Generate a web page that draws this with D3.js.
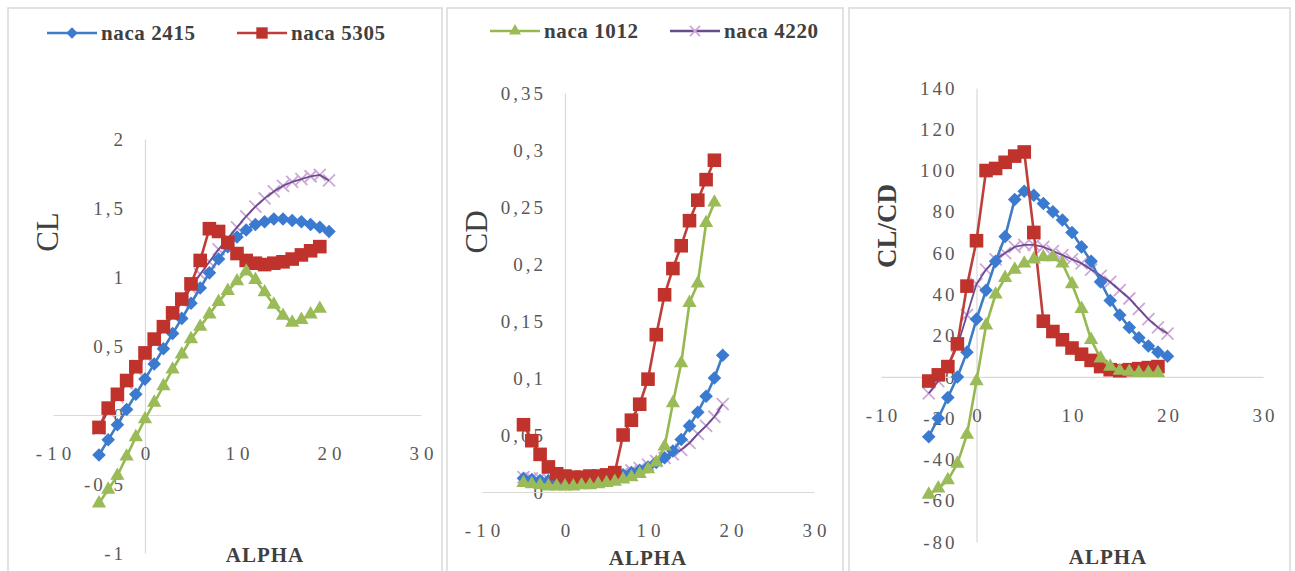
<!DOCTYPE html>
<html>
<head>
<meta charset="utf-8">
<script src="https://cdn.jsdelivr.net/npm/d3@7"></script>
<style>
  body { margin: 0; background: #fff; }
  svg text { font-family: "Liberation Serif", "Times New Roman", serif; }
</style>
</head>
<body>
<svg id="chart" width="1295" height="571"></svg>
<script>
// angle of attack, shared by all series (each series uses as many as it has values)
const alpha = [-5, -4, -3, -2, -1, 0, 1, 2, 3, 4, 5, 6, 7, 8, 9, 10, 11, 12, 13, 14, 15, 16, 17, 18, 19, 20];

const seriesNames = ['naca 2415', 'naca 5305', 'naca 1012', 'naca 4220'];
const seriesColors = ['#3f7cc4', '#be3f3a', '#96b94f', '#6a4c90'];
const markerColors = ['#3a7ad0', '#c0332d', '#9bbb59', '#cfa6d8'];
const seriesMarkers = ['diamond', 'square', 'triangle', 'cross'];
// Excel paints 4220 beneath the others here
const drawOrder = [3, 0, 1, 2];

// lift coefficient
const clNaca2415 = [-0.29, -0.18, -0.07, 0.04, 0.15, 0.26, 0.37, 0.48, 0.59, 0.7, 0.81, 0.92, 1.03, 1.13, 1.22, 1.29, 1.34, 1.38, 1.4, 1.42, 1.42, 1.41, 1.4, 1.38, 1.36, 1.33];
const clNaca5305 = [-0.09, 0.05, 0.15, 0.25, 0.35, 0.45, 0.55, 0.64, 0.74, 0.84, 0.95, 1.12, 1.35, 1.33, 1.25, 1.17, 1.12, 1.1, 1.09, 1.1, 1.11, 1.13, 1.16, 1.19, 1.22];
const clNaca1012 = [-0.64, -0.54, -0.44, -0.3, -0.16, -0.03, 0.09, 0.21, 0.33, 0.44, 0.55, 0.64, 0.73, 0.82, 0.9, 0.97, 1.04, 0.98, 0.89, 0.8, 0.72, 0.67, 0.69, 0.73, 0.77];
const clNaca4220 = [-0.1, 0.03, 0.13, 0.23, 0.33, 0.43, 0.53, 0.62, 0.72, 0.82, 0.92, 1.02, 1.11, 1.2, 1.28, 1.36, 1.44, 1.51, 1.57, 1.62, 1.66, 1.69, 1.71, 1.73, 1.74, 1.7];

// drag coefficient
const cdNaca2415 = [0.012, 0.011, 0.01, 0.01, 0.009, 0.009, 0.009, 0.01, 0.01, 0.011, 0.012, 0.013, 0.015, 0.017, 0.019, 0.022, 0.026, 0.03, 0.036, 0.046, 0.058, 0.07, 0.084, 0.1, 0.12];
const cdNaca5305 = [0.059, 0.045, 0.033, 0.022, 0.016, 0.014, 0.013, 0.013, 0.014, 0.014, 0.015, 0.017, 0.05, 0.063, 0.077, 0.099, 0.138, 0.173, 0.196, 0.216, 0.238, 0.256, 0.274, 0.291];
const cdNaca1012 = [0.008, 0.007, 0.006, 0.005, 0.005, 0.005, 0.005, 0.006, 0.006, 0.007, 0.008, 0.009, 0.011, 0.013, 0.016, 0.02, 0.026, 0.04, 0.078, 0.113, 0.166, 0.183, 0.236, 0.254];
const cdNaca4220 = [0.013, 0.012, 0.012, 0.011, 0.011, 0.011, 0.012, 0.012, 0.013, 0.014, 0.015, 0.016, 0.017, 0.019, 0.021, 0.024, 0.027, 0.03, 0.033, 0.037, 0.043, 0.051, 0.058, 0.066, 0.077];

// lift to drag ratio
const ratioNaca2415 = [-29, -20, -10, 0, 12, 28, 42, 56, 68, 86, 90, 88, 84, 80, 76, 70, 63, 56, 46, 37, 30, 24, 19, 15, 12, 10];
const ratioNaca5305 = [-2, 1, 5, 16, 44, 66, 100, 101, 104, 107, 109, 70, 27, 22, 18, 14, 11, 8, 5, 3.5, 3, 3.5, 4, 4.5, 5];
const ratioNaca1012 = [-57, -54, -50, -42, -28, -2, 25, 40, 48, 52, 55, 57, 58, 58, 55, 45, 33, 18, 9, 5, 3, 2.5, 2, 2, 2];
const ratioNaca4220 = [-8, -2, 5, 15, 30, 45, 52, 57, 60, 63, 64, 64, 63, 61, 59, 57, 55, 52, 49, 46, 42, 38, 33, 28, 24, 21];

const alphaTicks = [-10, 0, 10, 20, 30];
const clTicks = [-1, -0.5, 0, 0.5, 1, 1.5, 2];
const cdTicks = [0, 0.05, 0.1, 0.15, 0.2, 0.25, 0.3, 0.35];
const ratioTicks = [-80, -60, -40, -20, 0, 20, 40, 60, 80, 100, 120, 140];

const panels = [
    {
        box: [8, 8, 434, 580],
        xRange: [53, 421], yDomain: [-1, 2], yRange: [553, 139], yTicks: clTicks,
        values: [clNaca2415, clNaca5305, clNaca1012, clNaca4220],
        yTitle: 'CL', yTitleBold: false, yTitlePos: [47, 232], yTitleSize: 31,
        xTitlePos: [265, 562], xSpacing: 5,
        legend: { items: [0, 1], y: 33, starts: [47, 237] }
    },
    {
        box: [447, 8, 396, 580],
        xRange: [482, 814], yDomain: [0, 0.35], yRange: [492, 93], yTicks: cdTicks,
        values: [cdNaca2415, cdNaca5305, cdNaca1012, cdNaca4220],
        yTitle: 'CD', yTitleBold: false, yTitlePos: [476, 232], yTitleSize: 31,
        xTitlePos: [648, 565], xSpacing: 5,
        legend: { items: [2, 3], y: 31, starts: [490, 670] }
    },
    {
        box: [849, 8, 441, 580],
        xRange: [881, 1263], yDomain: [-80, 140], yRange: [542, 88], yTicks: ratioTicks,
        values: [ratioNaca2415, ratioNaca5305, ratioNaca1012, ratioNaca4220],
        yTitle: 'CL/CD', yTitleBold: true, yTitlePos: [887, 226], yTitleSize: 27,
        xTitlePos: [1108, 564], xSpacing: 3,
        legend: null
    }
];

const svg = d3.select('#chart');
const fmt = d => String(d).replace('.', ',');

function drawMarker(sel, type, color, scale = 1) {
    if (type === 'diamond') {
        sel.append('path')
            .attr('d', d3.symbol(d3.symbolSquare, 92 * scale)())
            .attr('transform', 'rotate(45)')
            .attr('fill', color);
    } else if (type === 'square') {
        sel.append('path')
            .attr('d', d3.symbol(d3.symbolSquare, 185 * scale)())
            .attr('fill', color);
    } else if (type === 'triangle') {
        sel.append('path')
            .attr('d', d3.symbol(d3.symbolTriangle, 88 * scale)())
            .attr('fill', color);
    } else {
        const r = 6 * Math.sqrt(scale);
        sel.append('path')
            .attr('d', `M${-r},${-r}L${r},${r}M${-r},${r}L${r},${-r}`)
            .attr('fill', 'none')
            .attr('stroke', color)
            .attr('stroke-width', 1.8);
    }
}

panels.forEach(p => {
    const x = d3.scaleLinear().domain([-10, 30]).range(p.xRange);
    const y = d3.scaleLinear().domain(p.yDomain).range(p.yRange);
    const g = svg.append('g');

    g.append('rect')
        .attr('x', p.box[0]).attr('y', p.box[1])
        .attr('width', p.box[2]).attr('height', p.box[3])
        .attr('fill', '#fff')
        .attr('stroke', '#d9d9d9')
        .attr('stroke-width', 1.5);

    // vertical axis through alpha = 0
    const yAxis = g.append('g')
        .attr('transform', `translate(${x(0)},0)`)
        .call(d3.axisLeft(y).tickValues(p.yTicks).tickSize(0).tickPadding(19).tickFormat(fmt));

    // horizontal axis through value = 0, labels set well below it
    const xAxis = g.append('g')
        .attr('transform', `translate(0,${y(0)})`)
        .call(d3.axisBottom(x).tickValues(alphaTicks).tickSize(0).tickPadding(32).tickFormat(fmt));

    [yAxis, xAxis].forEach(a => {
        a.select('.domain').attr('stroke', '#d9d9d9').attr('stroke-width', 1.2);
        a.selectAll('text')
            .attr('fill', '#595959')
            .style('font-family', '"Liberation Serif", "Times New Roman", serif')
            .style('font-size', '19px');
    });
    yAxis.selectAll('text').style('letter-spacing', '3px');
    xAxis.selectAll('text').style('letter-spacing', p.xSpacing + 'px').attr('dx', p.xSpacing / 2);

    // axis titles
    g.append('text')
        .attr('x', p.xTitlePos[0]).attr('y', p.xTitlePos[1])
        .attr('text-anchor', 'middle')
        .attr('fill', '#404040')
        .style('font-weight', 'bold')
        .style('font-size', '21px')
        .style('letter-spacing', '1px')
        .text('ALPHA');

    g.append('text')
        .attr('transform', `translate(${p.yTitlePos[0]},${p.yTitlePos[1]}) rotate(-90)`)
        .attr('text-anchor', 'middle')
        .attr('dy', '0.35em')
        .attr('fill', '#404040')
        .style('font-weight', p.yTitleBold ? 'bold' : 'normal')
        .style('font-size', p.yTitleSize + 'px')
        .text(p.yTitle);

    drawOrder.forEach(i => {
        const pts = p.values[i].map((v, k) => [alpha[k], v]);
        const line = d3.line().x(d => x(d[0])).y(d => y(d[1]));
        const addMarkers = () => g.append('g')
            .selectAll('g')
            .data(pts)
            .join('g')
            .attr('transform', d => `translate(${x(d[0])},${y(d[1])})`)
            .each(function() { drawMarker(d3.select(this), seriesMarkers[i], markerColors[i]); });

        // the pale crosses of 4220 sit under its thin dark line
        if (i === 3) addMarkers();

        g.append('path')
            .datum(pts)
            .attr('d', line)
            .attr('fill', 'none')
            .attr('stroke', seriesColors[i])
            .attr('stroke-width', i === 3 ? 1.8 : 2.6);

        if (i !== 3) addMarkers();
    });

    if (p.legend) {
        p.legend.items.forEach((si, j) => {
            const lx = p.legend.starts[j];
            const ly = p.legend.y;
            const lg = g.append('g');
            lg.append('line')
                .attr('x1', lx).attr('x2', lx + 50)
                .attr('y1', ly).attr('y2', ly)
                .attr('stroke', seriesColors[si])
                .attr('stroke-width', 2.6);
            lg.append('g')
                .attr('transform', `translate(${lx + 25},${ly})`)
                .call(s => drawMarker(s, seriesMarkers[si], markerColors[si], 0.7));
            lg.append('text')
                .attr('x', lx + 54).attr('y', ly)
                .attr('dy', '0.35em')
                .attr('fill', '#404040')
                .style('font-weight', 'bold')
                .style('font-size', '21px')
                .style('letter-spacing', '0.6px')
                .text(seriesNames[si]);
        });
    }
});
</script>
</body>
</html>
